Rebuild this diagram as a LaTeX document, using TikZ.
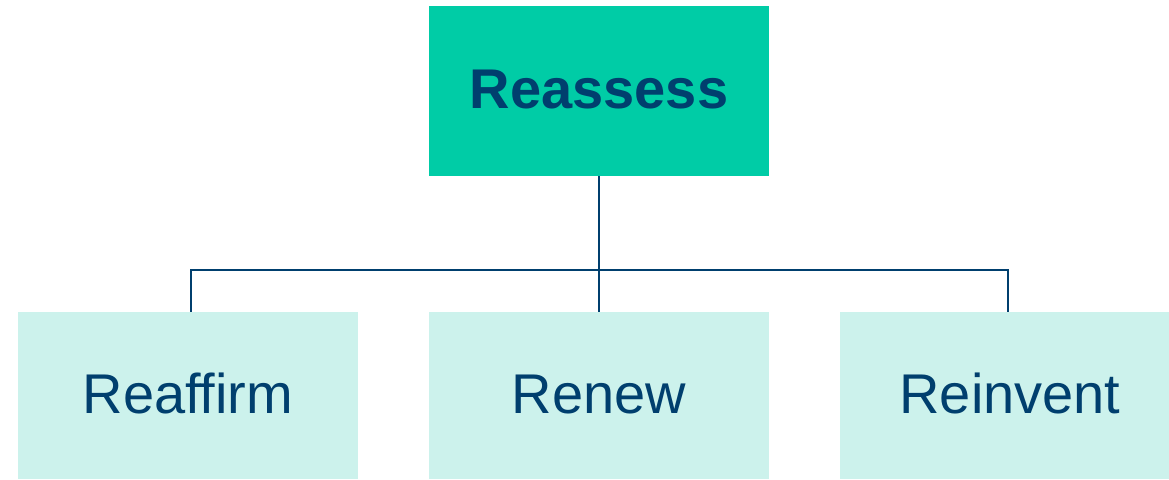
\documentclass[tikz,border=0pt]{standalone}
\usepackage{fontspec}
\setmainfont{Liberation Sans}
\definecolor{topgreen}{HTML}{00CCA6}
\definecolor{lightgreen}{HTML}{CCF2EC}
\definecolor{darkblue}{HTML}{003F6E}
\begin{document}
\begin{tikzpicture}
      [%%%%%%%%%%%%%%%%%%%%%%%%%%%%%%
      x=0.75pt, y=-0.75pt,
      topbox/.style={rectangle,fill=topgreen,text=darkblue,minimum width=255pt,minimum height=127.5pt,
        font=\fontsize{42}{50}\selectfont\bfseries,text height=30pt,text depth=4pt},
      subbox/.style={rectangle,fill=lightgreen,text=darkblue,minimum width=255pt,minimum height=125.25pt,
        font=\fontsize{42}{50}\selectfont,text height=30pt,text depth=3pt},
      link/.style={draw=darkblue,line width=1.9pt},
      ]%%%%%%%%%%%%%%%%%%%%%%%%%%%%%%
      \useasboundingbox (0,0) rectangle (1169,479);

      \node[topbox] (reassess) at (599,91){Reassess};
      \node[subbox] (reaffirm) at (188,395.5){Reaffirm};
      \node[subbox] (renew) at (599,395.5){Renew};
      \node[subbox] (reinvent) at (1010,395.5){Reinvent};

      % bus line
      \coordinate (busL) at (191,270);
      \coordinate (busR) at (1008,270);
      \draw[link] (reassess.south) -- (renew.north);
      \draw[link] (busL |- reaffirm.north) -- (busL) -- (busR) -- (busR |- reinvent.north);
    \end{tikzpicture}
\end{document}
